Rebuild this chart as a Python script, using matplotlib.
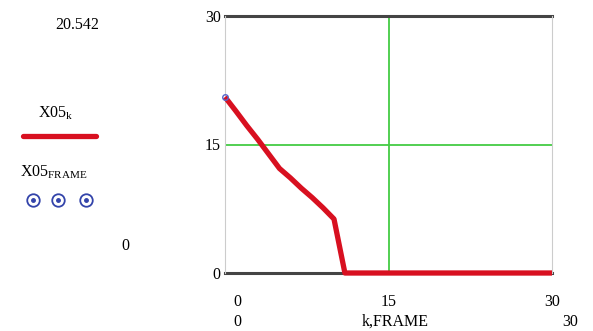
import numpy as np
import matplotlib.pyplot as plt

plt.rcParams["font.family"] = ["Liberation Serif", "DejaVu Serif"]

# data
k = list(range(0, 31))
x05 = [20.542, 18.9, 17.2, 15.6, 13.9, 12.2, 11.1, 9.9, 8.8, 7.6, 6.3] + [0.0] * 20
frame_k = [0]
frame_x05 = [20.542]
y_ticks = [0, 15, 30]
x_marks = [0, 15, 30]

W, H = 593, 331
FS = 11.5
fig = plt.figure(figsize=(W / 100, H / 100), dpi=100)
ax = fig.add_axes([225 / W, 1 - 273 / H, (552 - 225) / W, (273 - 16) / H])

ax.set_xlim(0, 30)
ax.set_ylim(0, 30)

# grid lines
ax.axhline(15, color="#44cc44", lw=1.3, zorder=1)
ax.axvline(15, color="#44cc44", lw=1.3, zorder=1)
ax.axhline(0, color="#444444", lw=2.2, zorder=2, clip_on=False)
ax.axhline(30, color="#444444", lw=2.2, zorder=2, clip_on=False)

ax.plot(k, x05, color="#d81020", lw=3.8, solid_capstyle="butt", zorder=3, clip_on=False)
ax.plot(frame_k, frame_x05, "o", mfc="none", mec="#5566cc", ms=4, zorder=4, clip_on=False)

for s in ["top", "bottom"]:
    ax.spines[s].set_visible(False)
for s in ["left", "right"]:
    ax.spines[s].set_color("#cccccc")
    ax.spines[s].set_linewidth(0.8)

ax.set_yticks(y_ticks)
ax.set_yticklabels([str(v) for v in y_ticks], fontsize=FS)
ax.tick_params(axis="y", length=0, pad=3)
ax.set_xticks([])

# x labels under the plot
for xv in x_marks:
    ax.text(xv + (1.1 if xv == 0 else 0), -3.4, str(xv), ha="center", va="center", fontsize=FS)
ax.text(1.1, -5.7, "0", ha="center", va="center", fontsize=FS)
ax.text(15.6, -5.7, "k,FRAME", ha="center", va="center", fontsize=FS)
ax.text(31.7, -5.7, "30", ha="center", va="center", fontsize=FS)

# left legend area
fig.text(77 / W, 1 - 25 / H, "20.542", ha="center", va="center", fontsize=FS)
fig.text(38 / W, 1 - 113 / H, r"X05$_{\mathregular{k}}$", ha="left", va="center", fontsize=FS)
fig.add_artist(plt.Line2D([23 / W, 96 / W], [1 - 136 / H, 1 - 136 / H], color="#d81020", lw=3.8, solid_capstyle="round"))
fig.text(20 / W, 1 - 172 / H, r"X05$_{\mathregular{FRAME}}$", ha="left", va="center", fontsize=FS)
for px in [33, 58, 86]:
    fig.add_artist(plt.Line2D([px / W], [1 - 200 / H], marker="o", ms=9, mfc="none", mec="#3344aa", mew=1.3, ls="none"))
    fig.add_artist(plt.Line2D([px / W], [1 - 200 / H], marker="o", ms=2.5, color="#3344aa", ls="none"))
fig.text(125 / W, 1 - 246 / H, "0", ha="center", va="center", fontsize=FS)

fig.savefig("out.png", dpi=100)
